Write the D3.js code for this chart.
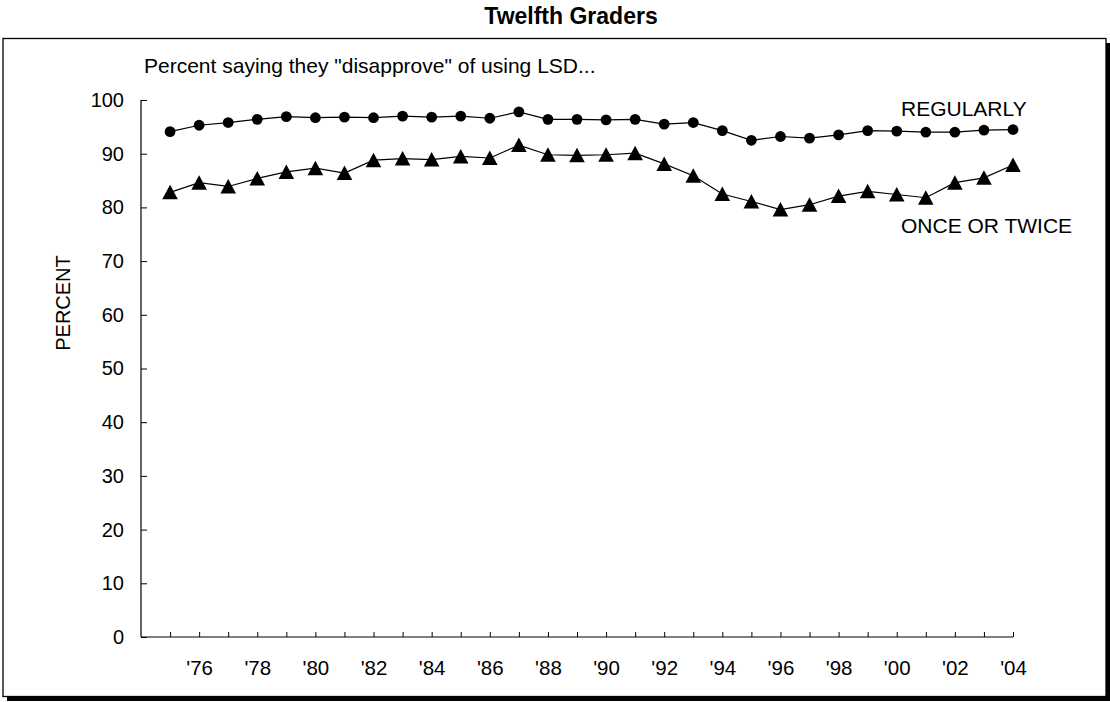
<!DOCTYPE html>
<html>
<head>
<meta charset="utf-8">
<script src="https://cdn.jsdelivr.net/npm/d3@7/dist/d3.min.js"></script>
<style>
  html, body { margin: 0; padding: 0; background: #fff; }
  svg { display: block; font-family: "Liberation Sans", Arial, Helvetica, sans-serif; }
</style>
</head>
<body>
<svg id="chart" width="1110" height="702"></svg>
<script>
const years = [1975,1976,1977,1978,1979,1980,1981,1982,1983,1984,1985,1986,1987,1988,1989,1990,1991,1992,1993,1994,1995,1996,1997,1998,1999,2000,2001,2002,2003,2004];
const regularly = [94.1,95.3,95.8,96.4,96.9,96.7,96.8,96.7,97.0,96.8,97.0,96.6,97.8,96.4,96.4,96.3,96.4,95.5,95.8,94.3,92.5,93.2,92.9,93.5,94.3,94.2,94.0,94.0,94.4,94.5];
const onceOrTwice = [82.8,84.6,83.9,85.4,86.6,87.3,86.4,88.8,89.1,88.9,89.5,89.2,91.6,89.8,89.7,89.8,90.1,88.1,85.9,82.5,81.1,79.6,80.5,82.1,83.0,82.4,81.8,84.6,85.5,87.9];
const yTicks = [0,10,20,30,40,50,60,70,80,90,100];
const xLabelYears = [1976,1978,1980,1982,1984,1986,1988,1990,1992,1994,1996,1998,2000,2002,2004];
const titleText = "Twelfth Graders";
const subtitleText = "Percent saying they \"disapprove\" of using LSD...";
const seriesLabels = ["REGULARLY", "ONCE OR TWICE"];
const yAxisTitle = "PERCENT";

const svg = d3.select("#chart");

// frame with shadow
svg.append("rect").attr("x", 1106).attr("y", 43).attr("width", 4).attr("height", 658).attr("fill", "#000");
svg.append("rect").attr("x", 7).attr("y", 697).attr("width", 1103).attr("height", 4).attr("fill", "#000");
svg.append("rect").attr("x", 3).attr("y", 38.5).attr("width", 1103).attr("height", 658)
  .attr("fill", "#fff").attr("stroke", "#000").attr("stroke-width", 1.3);

// title
svg.append("text").attr("x", 571).attr("y", 24).attr("text-anchor", "middle")
  .attr("font-size", 23).attr("font-weight", "bold").text(titleText);

const x = d3.scaleLinear().domain([1974, 2004]).range([141, 1013]);
const y = d3.scaleLinear().domain([0, 100]).range([637, 100]);

// y axis
const yAxis = d3.axisLeft(y).tickValues(yTicks).tickSize(-6).tickPadding(17).tickFormat(d3.format("d"));
const gy = svg.append("g").attr("transform", "translate(141,0)").call(yAxis);
gy.select(".domain").attr("d", `M0,${y(100)}V${y(0)}`).attr("stroke", "#000").attr("stroke-width", 1.2);
gy.selectAll(".tick line").attr("stroke", "#000");
gy.selectAll(".tick text").attr("font-size", 20).attr("font-family", "Liberation Sans, Arial, sans-serif").attr("fill", "#000");

// x axis
const xAxis = d3.axisBottom(x).tickValues(years).tickSize(-5).tickPadding(23)
  .tickFormat(d => xLabelYears.includes(d) ? "'" + String(d).slice(2) : "");
const gx = svg.append("g").attr("transform", `translate(0,${y(0)})`).call(xAxis);
gx.select(".domain").attr("d", `M${x(1974)},0H${x(2004)}`).attr("stroke", "#000").attr("stroke-width", 1.2);
gx.selectAll(".tick line").attr("stroke", "#000");
gx.selectAll(".tick text").attr("font-size", 20.5).attr("font-family", "Liberation Sans, Arial, sans-serif").attr("fill", "#000");

// y axis title
svg.append("text").attr("transform", "translate(70,303) rotate(-90)").attr("text-anchor", "middle")
  .attr("font-size", 20).text(yAxisTitle);

// subtitle
svg.append("text").attr("x", 144).attr("y", 73).attr("font-size", 21).text(subtitleText);

// lines
const line = d3.line().x((d, i) => x(years[i])).y(d => y(d));
svg.append("path").datum(regularly).attr("d", line).attr("fill", "none").attr("stroke", "#000").attr("stroke-width", 1.2);
svg.append("path").datum(onceOrTwice).attr("d", line).attr("fill", "none").attr("stroke", "#000").attr("stroke-width", 1.2);

// markers
svg.append("g").selectAll("circle").data(regularly).join("circle")
  .attr("cx", (d, i) => x(years[i])).attr("cy", d => y(d)).attr("r", 5.4).attr("fill", "#000");
svg.append("g").selectAll("path").data(onceOrTwice).join("path")
  .attr("transform", (d, i) => `translate(${x(years[i])},${y(d)})`)
  .attr("d", "M0,-7.5L7.8,7L-7.8,7Z").attr("fill", "#000");

// series labels
svg.append("text").attr("x", 901).attr("y", 116).attr("font-size", 21).text(seriesLabels[0]);
svg.append("text").attr("x", 901).attr("y", 233).attr("font-size", 21).text(seriesLabels[1]);
</script>
</body>
</html>
